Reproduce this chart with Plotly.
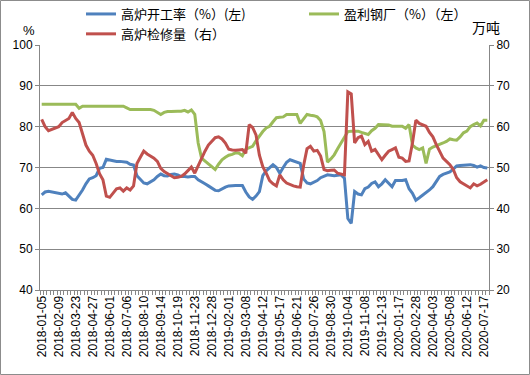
import plotly.graph_objects as go
from datetime import date, timedelta

# ---- categories: weekly dates (holiday weeks missing) ----
start_date = date(2018, 1, 5)
end_date = date(2020, 7, 24)
missing_weeks = {date(2018, 2, 16), date(2020, 1, 31)}
dates = []
d = start_date
while d <= end_date:
    if d not in missing_weeks:
        dates.append(d.isoformat())
    d += timedelta(days=7)

# ---- series values ----
blast_furnace_rate = [  # 高炉开工率（%）(左)
    63.3, 64.0, 64.2, 64.0, 63.8, 63.7, 63.5, 63.8, 63.0, 62.2,
    62.0, 63.2, 64.5, 66.0, 67.2, 67.5, 68.0, 69.8, 70.0, 72.0,
    71.8, 71.6, 71.5, 71.5, 71.4, 71.3, 70.8, 70.6, 68.0, 67.0,
    66.2, 66.0, 66.4, 67.0, 67.8, 68.4, 68.0, 67.9, 68.3, 68.4,
    68.2, 67.8, 67.8, 67.7, 67.8, 67.8, 67.0, 66.4, 66.0, 65.5,
    65.0, 64.4, 64.3, 64.8, 65.2, 65.5, 65.6, 65.6, 65.6, 65.6,
    64.0, 62.8, 62.2, 63.0, 64.1, 68.0, 69.2, 70.0, 70.7, 70.0,
    68.6, 70.0, 71.3, 71.9, 71.6, 71.2, 71.0, 67.2, 66.2, 66.0,
    66.4, 66.8, 67.5, 67.9, 68.2, 68.1, 68.0, 68.1, 68.2, 67.4,
    57.5, 56.3, 64.1, 63.5, 63.3, 64.8, 65.2, 66.1, 66.5, 65.3,
    66.0, 67.0, 66.2, 65.3, 66.8, 66.8, 66.8, 67.0, 64.8, 63.7,
    62.0, 62.6, 63.2, 63.7, 64.5, 65.3, 66.5, 67.8, 68.3, 68.6,
    68.9, 69.6, 70.4, 70.5, 70.6, 70.6, 70.7, 70.5, 70.1, 70.4,
    70.0, 69.9,
]
profitable_mills = [  # 盈利钢厂（%）（左）
    85.5, 85.5, 85.5, 85.5, 85.5, 85.5, 85.5, 85.5, 85.5, 85.5,
    85.5, 84.5, 85.0, 85.0, 85.0, 85.0, 85.0, 85.0, 85.0, 85.0,
    85.0, 85.0, 85.0, 85.0, 85.0, 84.6, 84.2, 84.2, 84.2, 84.2,
    84.2, 84.2, 84.2, 84.0, 83.4, 83.0, 83.5, 83.7, 83.7, 83.8,
    83.8, 83.8, 84.0, 83.6, 84.1, 83.0, 76.0, 72.3, 71.5, 70.9,
    70.2, 69.5, 70.8, 71.9, 72.5, 73.0, 73.2, 73.6, 73.5, 72.9,
    74.5, 74.9, 75.2, 76.5, 77.7, 78.8, 79.7, 80.1, 81.2, 82.2,
    82.3, 82.4, 83.0, 83.0, 83.0, 83.0, 80.8, 82.0, 83.0, 82.8,
    82.7, 82.4, 81.5, 78.8, 71.3, 72.1, 73.1, 74.6, 76.0, 77.6,
    78.8, 78.9, 78.9, 78.9, 78.6, 78.3, 78.1, 79.0, 79.6, 80.5,
    80.5, 80.5, 80.4, 80.1, 80.1, 80.1, 80.1, 79.6, 80.5, 75.5,
    74.8, 74.4, 74.8, 71.0, 74.5, 75.0, 75.3, 75.6, 76.0, 76.4,
    77.0, 76.8, 76.7, 77.5, 78.5, 78.9, 80.0, 80.5, 80.9, 80.2,
    81.6, 81.6,
]
maintenance_volume = [  # 高炉检修量（右）, 万吨
    61.8, 60.0, 59.0, 59.3, 59.7, 60.0, 61.0, 61.5, 62.0, 63.5,
    62.0, 61.0, 58.0, 55.5, 54.0, 53.0, 51.0, 48.5, 47.0, 43.0,
    42.7, 43.8, 44.8, 45.0, 44.2, 45.0, 44.5, 45.5, 51.0, 52.5,
    54.0, 53.3, 52.8, 52.3, 51.5, 49.8, 49.0, 48.5, 48.0, 47.5,
    47.6, 47.8, 48.4, 49.3, 50.1, 48.6, 50.4, 52.5, 54.0, 55.5,
    56.4, 57.3, 57.5, 57.0, 56.0, 54.5, 54.3, 54.2, 54.3, 54.4,
    53.5, 60.5, 59.8, 58.0, 53.0, 50.2, 48.6, 46.8, 46.0, 45.5,
    48.2, 47.0, 46.2, 45.8, 45.5, 45.3, 45.2, 50.5, 54.6, 55.2,
    54.0, 54.2, 52.8, 49.5, 49.2, 49.3, 49.4, 48.6, 48.4, 48.2,
    68.5, 68.0, 56.0, 57.3, 57.7, 55.6, 56.4, 54.0, 54.4, 53.0,
    51.9, 53.0, 54.0, 54.4, 54.8, 52.5, 52.3, 51.5, 51.6, 56.0,
    61.6, 60.8, 60.5, 60.1, 58.6, 57.5, 55.6, 54.0, 52.3, 51.5,
    50.7, 49.5, 47.5, 46.5, 46.0, 45.5, 45.0, 46.0, 45.5, 45.9,
    46.4, 47.0,
]

series_names = ["高炉开工率（%）(左)", "盈利钢厂（%）（左）", "高炉检修量（右）"]
label_step = 5
tick_labels = [d if i % label_step == 0 else "" for i, d in enumerate(dates)]

GRID = "#878787"
FONT = "Liberation Sans, Arial, Noto Sans CJK SC, sans-serif"
CJK = "Noto Sans CJK SC, sans-serif"

fig = go.Figure()
fig.add_trace(go.Scatter(x=dates, y=profitable_mills, mode="lines",
                         name=series_names[1], legendrank=2,
                         line=dict(color="#9BBB59", width=3)))
fig.add_trace(go.Scatter(x=dates, y=blast_furnace_rate, mode="lines",
                         name=series_names[0], legendrank=1,
                         line=dict(color="#4F81BD", width=3)))
fig.add_trace(go.Scatter(x=dates, y=maintenance_volume, mode="lines",
                         name=series_names[2], legendrank=3, yaxis="y2",
                         line=dict(color="#C0504D", width=3)))

L, R, T, B = 40, 41, 45, 85
W, H = 530, 375
pw, ph = W - L - R, H - T - B

fig.update_layout(
    width=W, height=H,
    margin=dict(l=L, r=R, t=T, b=B, autoexpand=False),
    paper_bgcolor="white", plot_bgcolor="white",
    font=dict(family=FONT, size=12, color="black"),
    showlegend=True,
    legend=dict(orientation="h", x=(81 - L) / pw, xanchor="left",
                y=1 + (T + 1) / ph, yanchor="top",
                entrywidth=178, entrywidthmode="pixels",
                font=dict(family=CJK, size=13, color="black"),
                bgcolor="rgba(0,0,0,0)", tracegroupgap=0,
                traceorder="normal", itemwidth=30),
    xaxis=dict(type="category", categoryorder="array", categoryarray=dates,
               range=[-0.5, len(dates) - 0.5],
               tickmode="array", tickvals=dates, ticktext=tick_labels,
               tickangle=-90, ticks="outside", ticklen=4, tickson="boundaries",
               tickcolor=GRID, showgrid=False, showline=True, linecolor=GRID,
               tickfont=dict(size=12, color="black"), zeroline=False),
    yaxis=dict(range=[40, 100], tick0=40, dtick=10, showgrid=True, gridcolor=GRID,
               showline=True, linecolor=GRID, ticks="outside", ticklen=4,
               tickcolor=GRID, zeroline=False, tickfont=dict(size=12, color="black")),
    yaxis2=dict(range=[20, 80], tick0=20, dtick=10, overlaying="y", side="right",
                showgrid=False, showline=True, linecolor=GRID, ticks="outside",
                ticklen=4, tickcolor=GRID, zeroline=False,
                tickfont=dict(size=12, color="black")),
    annotations=[
        dict(text="%", xref="paper", yref="paper", x=(29 - L) / pw, y=1 + (T - 31) / ph,
             xanchor="center", yanchor="middle", showarrow=False,
             font=dict(family=FONT, size=13, color="black")),
        dict(text="万吨", xref="paper", yref="paper", x=(486 - L) / pw, y=1 + (T - 27) / ph,
             xanchor="center", yanchor="middle", showarrow=False,
             font=dict(family=CJK, size=14, color="black")),
    ],
    shapes=[
        dict(type="rect", xref="paper", yref="paper",
             x0=(0.5 - L) / pw, x1=(W - 0.5 - L) / pw,
             y0=-(H - 0.5 - T - ph) / ph, y1=1 + (T - 0.5) / ph,
             line=dict(color="#8C8C8C", width=1), fillcolor="rgba(0,0,0,0)"),
    ],
)

fig.write_html(
    "out.html",
    config={"displayModeBar": False},
    post_script="document.body.style.margin='0';document.body.style.padding='0';",
)
